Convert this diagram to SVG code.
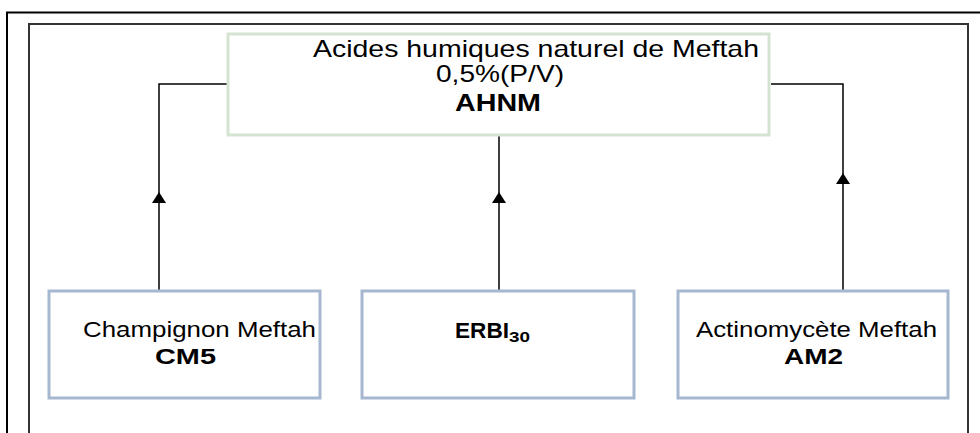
<svg xmlns="http://www.w3.org/2000/svg" width="980" height="433" viewBox="0 0 980 433">
<style>
.t{font-family:"Liberation Sans",Arial,sans-serif;font-size:24px;fill:#000}
.s{font-size:22px}
.b{font-weight:bold}
.sub{font-size:15px}
.green{fill:#fff;stroke:#d5e3d2;stroke-width:3}
.blue{fill:#fff;stroke:#a5b8d0;stroke-width:3}
.conn{fill:none;stroke:#000;stroke-width:1.5}
</style>
<defs>
<marker id="arr" markerUnits="userSpaceOnUse" markerWidth="11" markerHeight="14" viewBox="0 0 11 14" refX="11" refY="7" orient="auto">
<path d="M0,0 L11,7 L0,14 Z" fill="#000"/>
</marker>
</defs>
<rect x="0" y="0" width="980" height="433" fill="#fff"/>
<g id="frame">
<path d="M7,440 V12.5 H990" fill="none" stroke="#000" stroke-width="2"/>
<path d="M29,440 V24 H968 V440" fill="none" stroke="#333" stroke-width="2"/>
</g>
<g id="connectors">
<path class="conn" d="M159,293 V192" marker-end="url(#arr)"/>
<path class="conn" d="M159,192 V84 H227"/>
<path class="conn" d="M499,293 V192" marker-end="url(#arr)"/>
<path class="conn" d="M499,192 V136"/>
<path class="conn" d="M843,293 V173" marker-end="url(#arr)"/>
<path class="conn" d="M843,173 V84 H771"/>
</g>
<g id="node-ahnm">
<rect class="green" x="228" y="34" width="541" height="101"/>
<text class="t" x="313" y="57" textLength="446" lengthAdjust="spacingAndGlyphs">Acides humiques naturel de Meftah</text>
<text class="t" x="436" y="82" textLength="128" lengthAdjust="spacingAndGlyphs">0,5%(P/V)</text>
<text class="t b" x="455" y="111" textLength="86" lengthAdjust="spacingAndGlyphs">AHNM</text>
</g>
<g id="node-cm5">
<rect class="blue" x="49" y="291" width="271" height="107"/>
<text class="t s" x="83" y="337" textLength="233" lengthAdjust="spacingAndGlyphs">Champignon Meftah</text>
<text class="t s b" x="155" y="364" textLength="61" lengthAdjust="spacingAndGlyphs">CM5</text>
</g>
<g id="node-erbi">
<rect class="blue" x="362" y="291" width="272" height="107"/>
<text class="t s b" x="455" y="338" textLength="54" lengthAdjust="spacingAndGlyphs">ERBI</text>
<text class="t sub b" x="509" y="342" textLength="21" lengthAdjust="spacingAndGlyphs">30</text>
</g>
<g id="node-am2">
<rect class="blue" x="678" y="291" width="270" height="107"/>
<text class="t s" x="696" y="337" textLength="241" lengthAdjust="spacingAndGlyphs">Actinomycète Meftah</text>
<text class="t s b" x="784" y="364" textLength="59" lengthAdjust="spacingAndGlyphs">AM2</text>
</g>
</svg>
